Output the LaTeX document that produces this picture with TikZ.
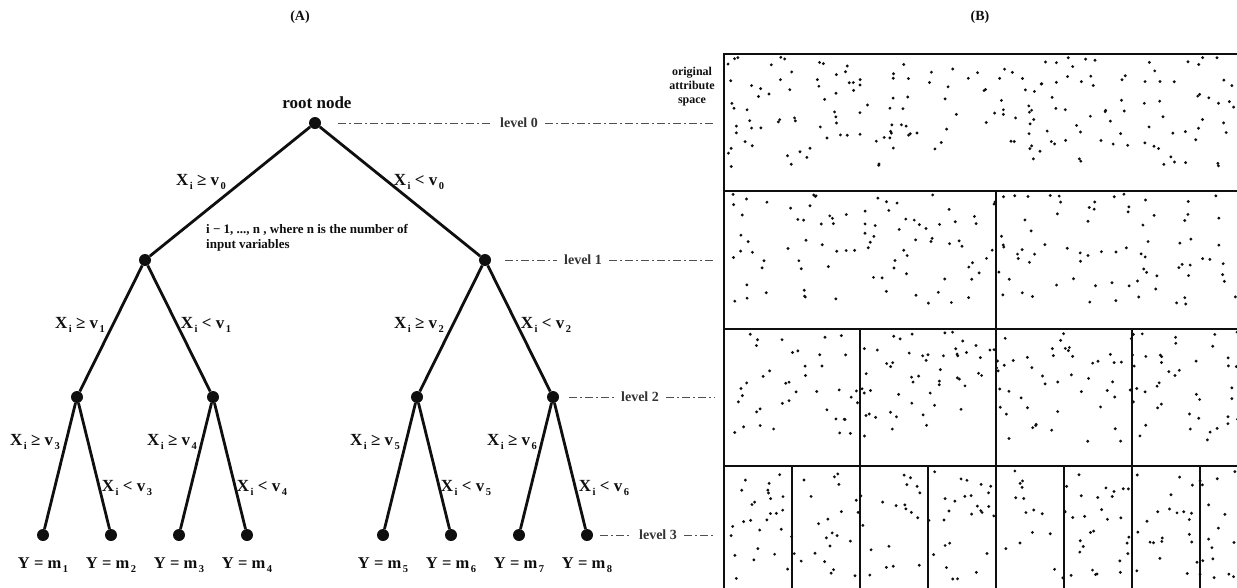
\documentclass[tikz,border=0pt]{standalone}
\usepackage{fontspec}
\setmainfont{Liberation Serif}
\usetikzlibrary{positioning,calc}
\definecolor{ink}{RGB}{15,15,15}
\definecolor{rule}{RGB}{80,80,80}
\tikzset{
  split/.style={circle,fill=ink,inner sep=0pt,minimum size=12pt},
  branch/.style={line width=2.8pt,draw=ink},
  cond/.style={font=\bfseries\fontsize{17}{19}\selectfont,text=ink,inner sep=1pt},
  leaflab/.style={font=\bfseries\fontsize{16.5}{18}\selectfont,text=ink,inner sep=1pt},
  lvl/.style={font=\bfseries\fontsize{14}{16}\selectfont,text=ink!85,inner sep=7pt},
  lvlline/.style={draw=rule,line width=0.9pt,dash pattern=on 8pt off 3pt on 2pt off 3pt},
  cell/.style={draw=ink,line width=1.4pt},
  heading/.style={font=\bfseries\fontsize{14}{16}\selectfont,text=ink},
  note/.style={font=\bfseries\fontsize{13}{15}\selectfont,text=ink,align=left,inner sep=0pt},
}
% lowered subscript as in the printed figure
\newcommand{\sbx}[1]{\kern1.5pt\raisebox{-0.6ex}{\fontsize{10.5}{10}\selectfont #1}}

\begin{document}
\begin{tikzpicture}[x=1pt,y=-1pt]
  \useasboundingbox (0,0) rectangle (1237,587);
  \clip (0,0) rectangle (1237,587);

  \node[heading] (ta) at (300,17) {(A)};
  \node[heading] (tb) at (980,17) {(B)};

  % tree
  \node[split] (r) at (315,123) {};
  \node[font=\bfseries\fontsize{17}{19}\selectfont,text=ink] (rl) at (317,103) {root node};
  \node[split] (a) at (145,260) {};
  \node[split] (b) at (485,260) {};
  \node[split] (aa) at (77,397) {};
  \node[split] (ab) at (213,397) {};
  \node[split] (ba) at (417,397) {};
  \node[split] (bb) at (553,397) {};
  \foreach \x [count=\i] in {43,111,179,247,383,451,519,587}{
    \node[split] (l\i) at (\x,535) {};
    \node[leaflab] (y\i) at (\x,565) {Y = m\sbx{\i}};
  }
  \foreach \p/\c in {r/a,r/b,a/aa,a/ab,b/ba,b/bb,aa/l1,aa/l2,ab/l3,ab/l4,ba/l5,ba/l6,bb/l7,bb/l8}
    \draw[branch] (\p) -- (\c);

  % split conditions
  \foreach \x/\y/\op/\k [count=\i] in {
      201/182/≥/0, 419/182/</0,
      80/325/≥/1, 206/325/</1, 419/325/≥/2, 546/325/</2,
      35/442/≥/3, 127/488/</3, 172/442/≥/4, 262/488/</4,
      375/442/≥/5, 466/488/</5, 512/442/≥/6, 604/488/</6}
    \node[cond] (e\i) at (\x,\y) {X\sbx{i} \op{} v\sbx{\k}};

  \node[note,anchor=north west] (nt) at (206,224) {i − 1, ..., n , where n is the number of\\input variables};

  % level markers
  \coordinate (pw) at (715,0);
  \foreach \nd/\t/\gap/\tx/\ty in {r/0/17/519/123, b/1/14/583/260, bb/2/10/640/397, l8/3/7/658/535}{
    \node[lvl] (lv\t) at (\tx,\ty) {level \t};
    \draw[lvlline] ([xshift=\gap pt]\nd.east) -- (lv\t.west);
    \draw[lvlline] (lv\t.east) -- (lv\t.east -| pw);
  }

  % attribute space partitions
  \node[font=\bfseries\fontsize{12}{14}\selectfont,text=ink,align=center] (os) at (692,87) {original\\attribute\\space};
  \draw[cell] (724,54) rectangle (1268,191);
  \foreach \i in {0,1} \draw[cell] (724+\i*272,191) rectangle (996+\i*272,329);
  \foreach \i in {0,...,3} \draw[cell] (724+\i*136,329) rectangle (860+\i*136,466);
  \foreach \i in {0,...,7} \draw[cell] (724+\i*68,466) rectangle (792+\i*68,610);

  \pgfmathsetseed{11}
  \foreach \top/\n in {54/200,191/175,329/190,466/190}{
    \foreach \k in {1,...,\n}{
      \pgfmathsetmacro\px{728+rnd*536}
      \pgfmathsetmacro\py{\top+3+rnd*110}
      \fill[ink] (\px,\py) circle (1.6pt);
    }
  }
\end{tikzpicture}
\end{document}
